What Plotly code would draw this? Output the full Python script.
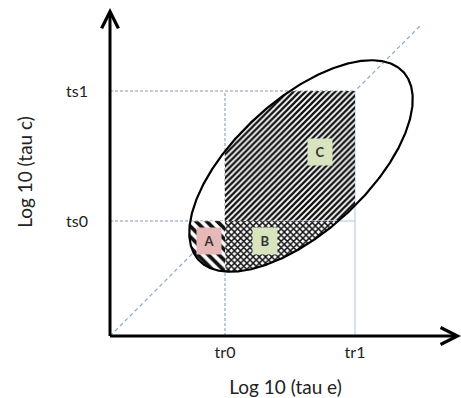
import numpy as np
import plotly.graph_objects as go

# Threshold values on each log axis
x_tick_vals = [11.5, 24.5]
x_tick_text = ["tr0", "tr1"]
y_tick_vals = [11.5, 24.5]
y_tick_text = ["ts0", "ts1"]

# Ellipse describing the population: centre, semi-axes, tilt (degrees)
ell_center = [19.1, 17.0]
ell_axes = [13.9, 6.6]
ell_tilt = 42.5

# Identity line end
diag_end = [31.0, 31.0]

# Region labels: name, anchor point, box colour
region_names = ["A", "B", "C"]
region_pos_x = [9.9, 15.5, 21.0]
region_pos_y = [9.5, 9.5, 18.4]
region_colors = ["#e6b9b8", "#d7e4bd", "#d7e4bd"]

X_MAX, Y_MAX = 35.1, 32.8
tr0, tr1 = x_tick_vals
ts0, ts1 = y_tick_vals


def ellipse_points(n=720):
    t = np.linspace(0, 2 * np.pi, n, endpoint=False)
    th = np.radians(ell_tilt)
    u = ell_axes[0] * np.cos(t)
    v = ell_axes[1] * np.sin(t)
    x = ell_center[0] + u * np.cos(th) - v * np.sin(th)
    y = ell_center[1] + u * np.sin(th) + v * np.cos(th)
    return list(zip(x, y))


def clip(poly, dim, value, keep_less):
    """Sutherland-Hodgman clip of a polygon against one axis-aligned half plane."""
    def inside(p):
        return p[dim] <= value if keep_less else p[dim] >= value

    def cross(p, q):
        t = (value - p[dim]) / (q[dim] - p[dim])
        return (p[0] + t * (q[0] - p[0]), p[1] + t * (q[1] - p[1]))

    out = []
    for i in range(len(poly)):
        cur, prev = poly[i], poly[i - 1]
        if inside(cur):
            if not inside(prev):
                out.append(cross(prev, cur))
            out.append(cur)
        elif inside(prev):
            out.append(cross(prev, cur))
    return out


ell = ellipse_points()
region_a = clip(clip(ell, 0, tr0, True), 1, ts0, True)
region_b = clip(clip(ell, 0, tr0, False), 1, ts0, True)
region_c = ell
for dim, val, less in [(0, tr0, False), (0, tr1, True), (1, ts0, False), (1, ts1, True)]:
    region_c = clip(region_c, dim, val, less)


def closed(poly):
    xs = [p[0] for p in poly] + [poly[0][0]]
    ys = [p[1] for p in poly] + [poly[0][1]]
    return xs, ys


fig = go.Figure()

dash_col = "#8196b4"
solid_col = "#a9c6e3"
short_dash = "3px,2px"


def seg(xs, ys, color, dash, width=1):
    fig.add_trace(go.Scatter(x=xs, y=ys, mode="lines", hoverinfo="skip",
                             line=dict(color=color, width=width, dash=dash)))


# guide lines
seg([0, tr1], [ts1, ts1], dash_col, short_dash)
seg([0, tr0], [ts0, ts0], dash_col, short_dash)
seg([tr0, tr1], [ts0, ts0], solid_col, "solid")
seg([tr0, tr0], [0, ts1], dash_col, short_dash)
seg([tr1, tr1], [0, ts1], solid_col, "solid")
seg([0, diag_end[0]], [0, diag_end[1]], "#8fa6c8", "4px,3px", 1.2)

# hatched regions
for poly, shape, size, sol in [(region_c, "/", 4.2, 0.55),
                               (region_b, "x", 4.4, 0.55),
                               (region_a, "\\", 7.5, 0.5)]:
    xs, ys = closed(poly)
    fig.add_trace(go.Scatter(
        x=xs, y=ys, mode="lines", fill="toself", hoverinfo="skip",
        line=dict(width=0, color="rgba(0,0,0,0)"),
        fillcolor="white",
        fillpattern=dict(shape=shape, size=size, solidity=sol, fgopacity=1,
                         fgcolor="#111111", bgcolor="white"),
    ))

# ellipse outline
ex, ey = closed(ell)
fig.add_trace(go.Scatter(x=ex, y=ey, mode="lines", hoverinfo="skip",
                         line=dict(color="black", width=2.2)))

annotations = []
# axes with arrow heads
annotations.append(dict(x=0, y=Y_MAX, ax=0, ay=-0.15, xref="x", yref="y",
                        axref="x", ayref="y", text="", showarrow=True,
                        arrowhead=5, arrowsize=1.1, arrowwidth=3, arrowcolor="black"))
annotations.append(dict(x=X_MAX, y=0, ax=-0.15, ay=0, xref="x", yref="y",
                        axref="x", ayref="y", text="", showarrow=True,
                        arrowhead=5, arrowsize=1.1, arrowwidth=3, arrowcolor="black"))

for name, px, py, col in zip(region_names, region_pos_x, region_pos_y, region_colors):
    annotations.append(dict(x=px, y=py, xref="x", yref="y", text=f"<b>{name}</b>",
                            showarrow=False, bgcolor=col, width=24, height=26,
                            borderpad=0, font=dict(size=13, color="#333333")))

font_fam = "Lato, Open Sans, sans-serif"
fig.update_layout(
    width=461, height=398,
    margin=dict(l=110, r=0, t=8, b=62),
    paper_bgcolor="white", plot_bgcolor="white",
    showlegend=False,
    font=dict(family=font_fam, size=16, color="#222222"),
    annotations=annotations,
    xaxis=dict(range=[0, X_MAX], tickvals=x_tick_vals, ticktext=x_tick_text,
               showgrid=False, zeroline=False, showline=False, ticks="",
               ticklabelstandoff=5,
               title=dict(text="Log 10 (tau e)", standoff=20)),
    yaxis=dict(range=[0, Y_MAX], tickvals=y_tick_vals, ticktext=y_tick_text,
               showgrid=False, zeroline=False, showline=False, ticks="",
               ticklabelstandoff=21,
               title=dict(text="Log 10 (tau c)", standoff=28)),
)

fig.write_html("out.html")
